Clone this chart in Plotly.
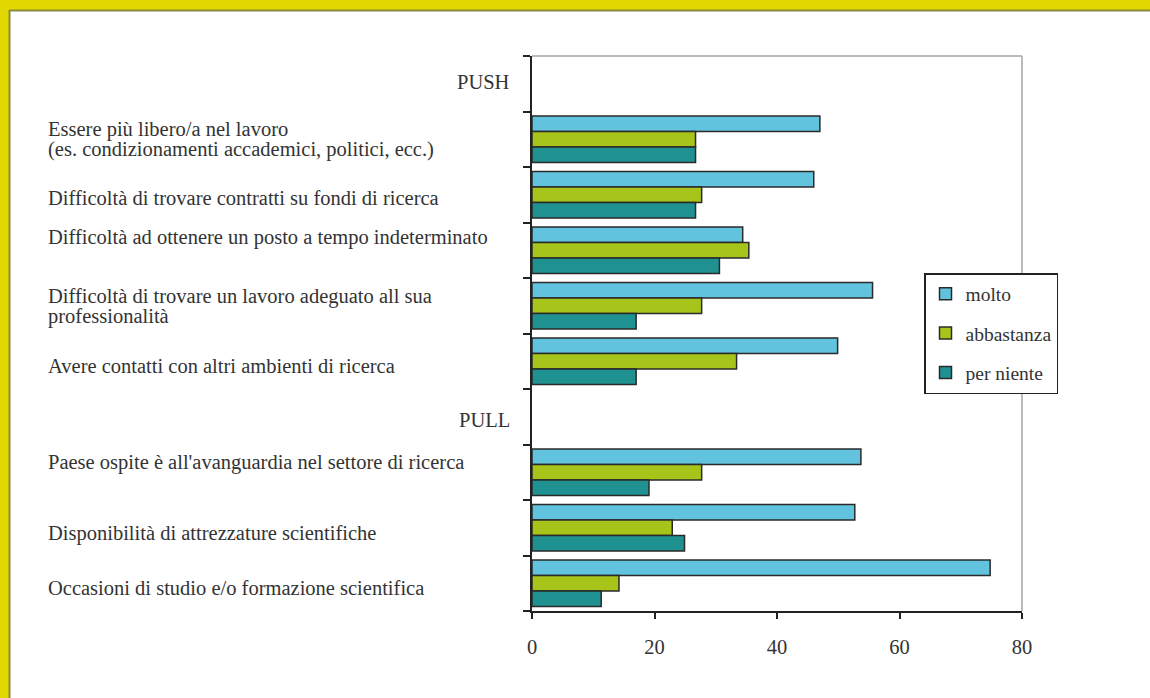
import plotly.graph_objects as go

# ---- data ----
section_labels = ["PUSH", "PULL"]
section_slots = [0, 6]
item_labels = [
    ["Essere più libero/a nel lavoro", "(es. condizionamenti accademici, politici, ecc.)"],
    ["Difficoltà di trovare contratti su fondi di ricerca"],
    ["Difficoltà ad ottenere un posto a tempo indeterminato"],
    ["Difficoltà di trovare un lavoro adeguato all sua", "professionalità"],
    ["Avere contatti con altri ambienti di ricerca"],
    ["Paese ospite è all'avanguardia nel settore di ricerca"],
    ["Disponibilità di attrezzature scientifiche"],
    ["Occasioni di studio e/o formazione scientifica"],
]
item_slots = [1, 2, 3, 4, 5, 7, 8, 9]
molto = [47.0, 46.0, 34.4, 55.6, 49.9, 53.7, 52.7, 74.8]
abbastanza = [26.7, 27.7, 35.4, 27.7, 33.4, 27.7, 22.9, 14.2]
per_niente = [26.7, 26.7, 30.6, 17.0, 17.0, 19.1, 24.9, 11.3]
series_names = ["molto", "abbastanza", "per niente"]
x_ticks = [0, 20, 40, 60, 80]

# ---- style ----
colors = ["#62C3DE", "#A6C41A", "#1F9191"]
FONT = "'Liberation Serif', 'Times New Roman', 'DejaVu Serif', serif"
FS = 20.5
TXT = "#333333"
W, H = 1150, 698
L, R, T, B = 532, 1022, 56, 611  # plot area pixel box
label_yshift = [0, -3, 13, -1, -5, 10, -6, -5]
section_yshift = [2, -3]
LINE_GAP = 20

def px_x(px):
    return (px - L) / (R - L)

def px_y(py):
    return (B - py) / (B - T)

fig = go.Figure()
for name, vals, col in zip(series_names, [molto, abbastanza, per_niente], colors):
    fig.add_trace(go.Bar(
        name=name, x=vals, y=item_slots, orientation="h",
        marker=dict(color=col, line=dict(color="#2a2a2a", width=1.5)),
        legendgroup=name,
    ))

annotations = []
for lines, s, ys in zip(item_labels, item_slots, label_yshift):
    n = len(lines)
    for k, line in enumerate(lines):
        off = ((n - 1) / 2 - k) * LINE_GAP
        annotations.append(dict(
            text=line, x=px_x(46), xref="paper", y=s, yref="y",
            xanchor="left", yanchor="middle", align="left", showarrow=False,
            yshift=ys + off, font=dict(family=FONT, size=FS, color=TXT)))
for lab, s, ys in zip(section_labels, section_slots, section_yshift):
    annotations.append(dict(
        text=lab, x=px_x(512), xref="paper", y=s, yref="y",
        xanchor="right", yanchor="middle", showarrow=False, yshift=ys,
        font=dict(family=FONT, size=FS, color=TXT)))

shapes = [
    # plot area top and right border
    dict(type="line", xref="paper", yref="paper", x0=0, x1=1, y0=1, y1=1,
         line=dict(color="#BBBBBB", width=2)),
    dict(type="line", xref="paper", yref="paper", x0=1, x1=1, y0=0, y1=1,
         line=dict(color="#BBBBBB", width=2)),
    # yellow frame (top and left)
    dict(type="rect", xref="paper", yref="paper", x0=px_x(0), x1=px_x(W),
         y0=px_y(10), y1=px_y(0), line=dict(width=0), fillcolor="#E0D800"),
    dict(type="rect", xref="paper", yref="paper", x0=px_x(0), x1=px_x(9),
         y0=px_y(H), y1=px_y(0), line=dict(width=0), fillcolor="#E0D800"),
    dict(type="line", xref="paper", yref="paper", x0=px_x(9), x1=px_x(W),
         y0=px_y(10.5), y1=px_y(10.5), line=dict(color="#8C8A40", width=2)),
    dict(type="line", xref="paper", yref="paper", x0=px_x(9.5), x1=px_x(9.5),
         y0=px_y(H), y1=px_y(10), line=dict(color="#8C8A40", width=2)),
]

fig.update_layout(
    width=W, height=H,
    margin=dict(l=L, r=W - R, t=T, b=H - B),
    paper_bgcolor="white", plot_bgcolor="white",
    barmode="group", bargap=0.165, bargroupgap=0,
    font=dict(family=FONT, size=FS, color=TXT),
    showlegend=True,
    legend=dict(
        x=px_x(924), y=px_y(273), xanchor="left", yanchor="top",
        bgcolor="white", bordercolor="#222222", borderwidth=1.5,
        font=dict(family=FONT, size=19.5, color=TXT),
        tracegroupgap=11, itemwidth=30,
    ),
    xaxis=dict(
        range=[0, 80], tickvals=x_ticks, ticks="outside", ticklen=6,
        tickcolor="#222", tickwidth=1.5, showgrid=False, zeroline=False,
        showline=True, linecolor="#222", linewidth=2,
        ticklabelstandoff=10, tickfont=dict(family=FONT, size=FS, color=TXT),
    ),
    yaxis=dict(
        range=[9.5, -0.5], tickvals=[i - 0.5 for i in range(11)],
        ticktext=[""] * 11, ticks="outside", ticklen=7, tickcolor="#222",
        tickwidth=1.5, showgrid=False, zeroline=False, showline=True,
        linecolor="#222", linewidth=2,
    ),
    annotations=annotations,
    shapes=shapes,
)

fig.write_html(
    "out.html",
    config={"displayModeBar": False},
    post_script="document.body.style.margin='0';document.body.style.overflow='hidden';",
)
